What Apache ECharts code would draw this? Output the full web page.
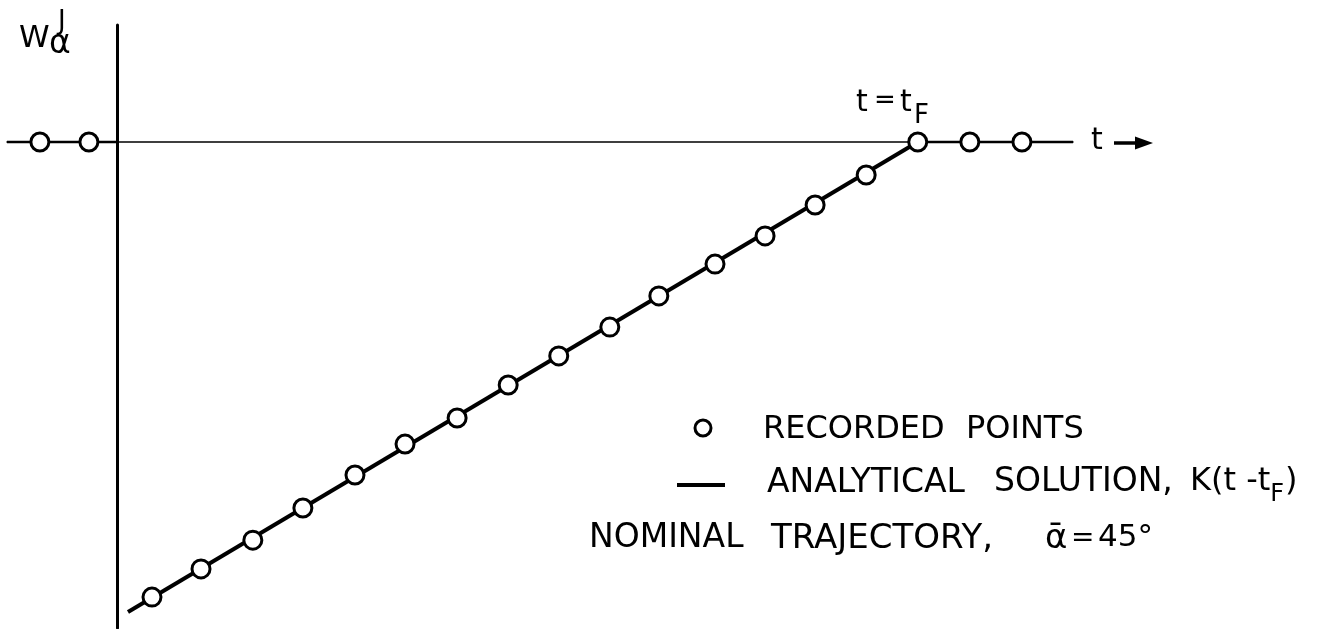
<!DOCTYPE html>
<html>
<head>
<meta charset="utf-8">
<script src="https://cdn.jsdelivr.net/npm/echarts@6/dist/echarts.min.js"></script>
<style>
  html, body { margin: 0; padding: 0; background: #ffffff; }
  #chart { width: 1318px; height: 629px; }
</style>
</head>
<body>
<div id="chart"></div>
<script>
// Axis extents (t measured from the W axis, W in units of one sample step)
const tRange = [-2.154, 18.72];
const wRange = [-16.04, 3.86];

// Recorded points of W versus t
const recordedT = [-1.51, -0.55, 0.685, 1.645, 2.66, 3.64, 4.66, 5.64, 6.66, 7.66,
                   8.65, 9.65, 10.61, 11.71, 12.69, 13.67, 14.67, 15.68, 16.70, 17.72];
const recordedW = [0, 0, -15.02, -14.09, -13.14, -12.08, -10.99, -9.97, -9.11, -8.02,
                   -7.06, -6.11, -5.08, -4.03, -3.10, -2.08, -1.09, 0, 0, 0];

// Final time of the ramp
const tF = 15.68;

// Analytical solution K(t - tF): end points of the ramp
const analyticT = [0.215, tF];
const analyticW = [-15.51, 0];

// W = 0 before the W axis and after tF
const flatSegments = [[tRange[0], 0], [tF, tRange[1]]];

const FONT = 'DejaVu Sans';
const INK = '#000000';

const chart = echarts.init(document.getElementById('chart'), null, { renderer: 'canvas' });

const zip = (xs, ys) => xs.map((x, i) => [x, ys[i]]);

const flatSeries = flatSegments.map(seg => ({
  type: 'line',
  data: [[seg[0], 0], [seg[1], 0]],
  symbol: 'none',
  lineStyle: { color: INK, width: 2.5 },
  silent: true,
  z: 3
}));

const txt = (left, top, text, size) => ({
  type: 'text', left, top,
  style: { text, font: size + 'px ' + FONT, fill: INK }
});

const option = {
  backgroundColor: '#ffffff',
  animation: false,
  grid: { left: 7, right: 245, top: 25, bottom: 1, containLabel: false },
  xAxis: {
    type: 'value',
    min: tRange[0],
    max: tRange[1],
    axisLine: { show: true, onZero: true, lineStyle: { color: INK, width: 1.5 } },
    axisTick: { show: false },
    axisLabel: { show: false },
    splitLine: { show: false }
  },
  yAxis: {
    type: 'value',
    min: wRange[0],
    max: wRange[1],
    axisLine: { show: true, onZero: true, lineStyle: { color: INK, width: 3 } },
    axisTick: { show: false },
    axisLabel: { show: false },
    splitLine: { show: false }
  },
  series: [
    ...flatSeries,
    {
      name: 'ANALYTICAL SOLUTION',
      type: 'line',
      data: zip(analyticT, analyticW),
      symbol: 'none',
      lineStyle: { color: INK, width: 4 },
      silent: true,
      z: 3
    },
    {
      name: 'RECORDED POINTS',
      type: 'scatter',
      data: zip(recordedT, recordedW),
      symbol: 'circle',
      symbolSize: 18,
      itemStyle: { color: '#ffffff', borderColor: INK, borderWidth: 3, opacity: 1 },
      silent: true,
      z: 5
    }
  ],
  graphic: [
    // W axis title: W with superscript J and subscript alpha
    txt(19, 23, 'W', 31),
    txt(58, 9, 'J', 26),
    txt(49, 28, 'α', 33),

    // t = tF marker
    txt(856, 88, 't', 30),
    txt(874, 88, '=', 26),
    txt(900, 88, 't', 30),
    txt(914, 103, 'F', 26),

    // t axis label with arrow
    txt(1091, 126, 't', 30),
    { type: 'line', shape: { x1: 1114, y1: 143, x2: 1140, y2: 143 }, style: { stroke: INK, lineWidth: 3.5 } },
    { type: 'polygon', shape: { points: [[1135, 136.5], [1153, 143], [1135, 149.5]] }, style: { fill: INK } },

    // Legend: recorded points
    { type: 'circle', shape: { cx: 703, cy: 428, r: 8 }, style: { fill: '#ffffff', stroke: INK, lineWidth: 3 } },
    txt(763, 414, 'RECORDED', 32),
    txt(966, 414, 'POINTS', 32),

    // Legend: analytical solution
    { type: 'line', shape: { x1: 677, y1: 485, x2: 725, y2: 485 }, style: { stroke: INK, lineWidth: 4 } },
    txt(767, 467, 'ANALYTICAL', 33),
    txt(994, 466, 'SOLUTION,', 33),
    {
      type: 'text', left: 1190, top: 466,
      style: {
        text: '{n|K(t -t}{s|F}{n|)}',
        fill: INK,
        rich: {
          n: { font: '32px ' + FONT, fill: INK, verticalAlign: 'top', lineHeight: 38 },
          s: { font: '24px ' + FONT, fill: INK, verticalAlign: 'top', padding: [17, 1, 0, 0], lineHeight: 38 }
        }
      }
    },

    // Note on the trajectory
    txt(589, 522, 'NOMINAL', 33),
    txt(771, 522, 'TRAJECTORY,', 34),
    txt(1045, 522, 'ᾱ', 34),
    txt(1071, 525, '=', 28),
    txt(1098, 522, '45°', 31)
  ]
};

chart.setOption(option);
</script>
</body>
</html>
